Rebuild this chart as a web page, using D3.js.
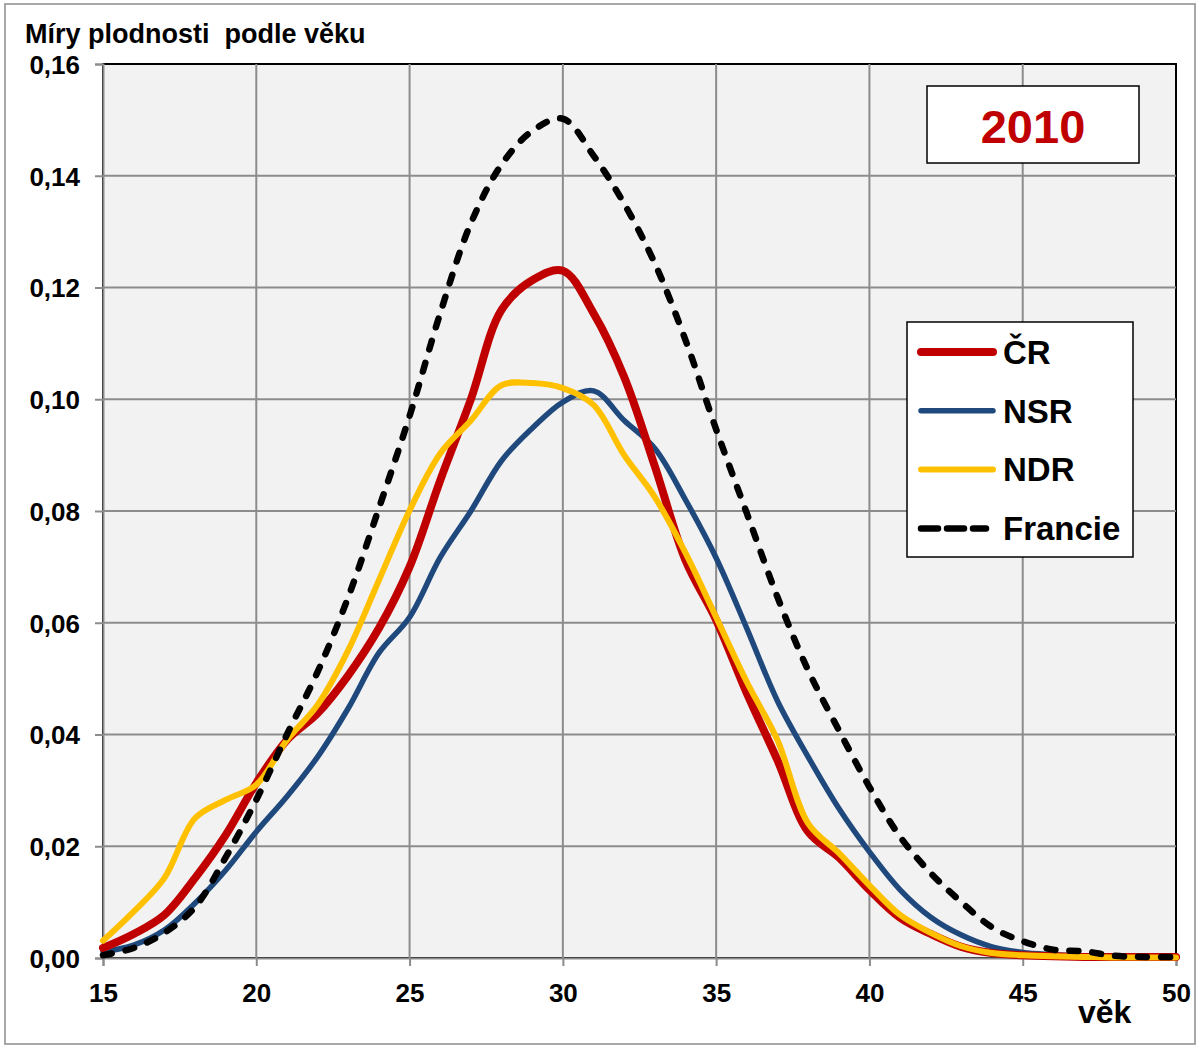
<!DOCTYPE html>
<html>
<head>
<meta charset="utf-8">
<script src="https://cdn.jsdelivr.net/npm/d3@7"></script>
<style>
  body { margin: 0; background: #fff; }
  text { font-family: "Liberation Sans", Arial, sans-serif; font-weight: bold; }
</style>
</head>
<body>
<div id="chart"></div>
<script>
//////////////////
// DATA
var ages = d3.range(15, 51);
var xTicks = [15, 20, 25, 30, 35, 40, 45, 50];
var yTicks = [0, 0.02, 0.04, 0.06, 0.08, 0.10, 0.12, 0.14, 0.16];

var cr = [0.0018, 0.0043, 0.0077, 0.0143, 0.022, 0.0313, 0.039, 0.0438, 0.0506, 0.059,
  0.070, 0.0855, 0.100, 0.116, 0.1213, 0.123, 0.1154, 0.104, 0.088, 0.0712,
  0.0605, 0.0474, 0.0354, 0.0226, 0.018, 0.0122, 0.0072, 0.0043, 0.0020, 0.0009,
  0.0005, 0.0003, 0.0002, 0.0002, 0.0002, 0.0002];
var nsr = [0.0011, 0.0023, 0.005, 0.0098, 0.0157, 0.0226, 0.0289, 0.036, 0.0447, 0.0546,
  0.061, 0.0717, 0.080, 0.089, 0.0948, 0.0995, 0.1015, 0.0962, 0.0912, 0.082,
  0.0716, 0.059, 0.046, 0.036, 0.0268, 0.019, 0.0122, 0.0073, 0.0041, 0.002,
  0.001, 0.0006, 0.0003, 0.0002, 0.0001, 0.0001];
var ndr = [0.0031, 0.0083, 0.0143, 0.025, 0.0283, 0.031, 0.039, 0.0453, 0.0551, 0.0676,
  0.0801, 0.0903, 0.0962, 0.1025, 0.1029, 0.102, 0.099, 0.090, 0.0825, 0.0725,
  0.061, 0.0494, 0.039, 0.0241, 0.0188, 0.013, 0.0077, 0.0045, 0.0021, 0.0009,
  0.0005, 0.0003, 0.0002, 0.0001, 0.0001, 0.0001];
var francie = [0.0005, 0.0018, 0.0045, 0.0091, 0.018, 0.0283, 0.040, 0.0512, 0.0646, 0.0805,
  0.097, 0.1154, 0.1315, 0.142, 0.148, 0.1502, 0.1436, 0.135, 0.1243, 0.1106,
  0.0946, 0.0796, 0.0646, 0.0515, 0.0408, 0.0306, 0.0217, 0.0152, 0.010, 0.0055,
  0.003, 0.0015, 0.0012, 0.0004, 0.0002, 0.0002];

var seriesNames = ["ČR", "NSR", "NDR", "Francie"];

//////////////////
// VARIABLES
var w = 1200, h = 1049;
var pLeft = 103, pRight = 1176, pTop = 64, pBottom = 958;

var series = [
  { name: "NSR", values: nsr, color: "#1F497D", width: 5.5, dash: null, legendDash: null },
  { name: "ČR", values: cr, color: "#C00000", width: 8, dash: null, legendDash: null },
  { name: "NDR", values: ndr, color: "#FFC000", width: 6, dash: null, legendDash: null },
  { name: "Francie", values: francie, color: "#000", width: 6.5, dash: "9,14", legendDash: "17,9" }
];
var style = {};
series.forEach(function(s) { style[s.name] = s; });

var svg = d3.select("#chart").append("svg")
  .attr("width", w)
  .attr("height", h);

// outer frame
svg.append("rect")
  .attr("x", 5).attr("y", 4)
  .attr("width", 1190).attr("height", 1040)
  .attr("fill", "#fff")
  .attr("stroke", "#8c8c8c")
  .attr("stroke-width", 1.5);

var x = d3.scaleLinear().domain([15, 50]).range([pLeft, pRight]);
var y = d3.scaleLinear().domain([0, 0.16]).range([pBottom, pTop]);

// plot area
svg.append("rect")
  .attr("x", pLeft).attr("y", pTop)
  .attr("width", pRight - pLeft).attr("height", pBottom - pTop)
  .attr("fill", "#f2f2f2")
  .attr("stroke", "#000")
  .attr("stroke-width", 2);

// grid
svg.append("g").selectAll("line")
  .data(xTicks.slice(1, -1))
  .enter().append("line")
  .attr("x1", function(d) { return x(d); })
  .attr("x2", function(d) { return x(d); })
  .attr("y1", pTop).attr("y2", pBottom)
  .attr("stroke", "#8c8c8c").attr("stroke-width", 2);
svg.append("g").selectAll("line")
  .data(yTicks.slice(1, -1))
  .enter().append("line")
  .attr("y1", function(d) { return y(d); })
  .attr("y2", function(d) { return y(d); })
  .attr("x1", pLeft).attr("x2", pRight)
  .attr("stroke", "#8c8c8c").attr("stroke-width", 2);

// axes
var fmt = function(d) { return d3.format(".2f")(d).replace(".", ","); };
var yAxis = svg.append("g")
  .attr("transform", "translate(" + pLeft + ",0)")
  .call(d3.axisLeft(y).tickValues(yTicks).tickFormat(fmt).tickSizeOuter(0).tickSize(8).tickPadding(15));
var xAxis = svg.append("g")
  .attr("transform", "translate(0," + pBottom + ")")
  .call(d3.axisBottom(x).tickValues(xTicks).tickSizeOuter(0).tickSize(8).tickPadding(18));
[yAxis, xAxis].forEach(function(a) {
  a.select(".domain").attr("stroke", "#8c8c8c").attr("stroke-width", 2);
  a.selectAll(".tick line").attr("stroke", "#8c8c8c").attr("stroke-width", 2);
  a.selectAll(".tick text")
    .attr("fill", "#000")
    .style("font-family", "'Liberation Sans', Arial, sans-serif")
    .style("font-weight", "bold")
    .style("font-size", "26px");
});
yAxis.selectAll(".tick text").attr("dy", "0.36em");

// lines
var line = d3.line()
  .x(function(d, i) { return x(ages[i]); })
  .y(function(d) { return y(d); })
  .curve(d3.curveCatmullRom.alpha(0.5));

svg.append("g").selectAll("path")
  .data(series)
  .enter().append("path")
  .attr("d", function(d) { return line(d.values); })
  .attr("fill", "none")
  .attr("stroke", function(d) { return d.color; })
  .attr("stroke-width", function(d) { return d.width; })
  .attr("stroke-dasharray", function(d) { return d.dash; })
  .attr("stroke-linecap", "round")
  .attr("stroke-linejoin", "round");

// titles
svg.append("text")
  .attr("x", 25).attr("y", 43)
  .style("font-size", "27px")
  .style("white-space", "pre")
  .text("Míry plodnosti  podle věku");
svg.append("text")
  .attr("x", 1078).attr("y", 1023)
  .style("font-size", "32px")
  .text("věk");

// year box
svg.append("rect")
  .attr("x", 927).attr("y", 86)
  .attr("width", 212).attr("height", 77)
  .attr("fill", "#fff").attr("stroke", "#000").attr("stroke-width", 1.5);
svg.append("text")
  .attr("x", 1033).attr("y", 143)
  .attr("text-anchor", "middle")
  .attr("fill", "#C00000")
  .style("font-size", "47px")
  .text("2010");

// legend
var legend = svg.append("g");
legend.append("rect")
  .attr("x", 907).attr("y", 322)
  .attr("width", 226).attr("height", 235)
  .attr("fill", "#fff").attr("stroke", "#000").attr("stroke-width", 1.5);
var item = legend.selectAll("g.item")
  .data(seriesNames)
  .enter().append("g")
  .attr("transform", function(d, i) { return "translate(0," + (352 + i * 58.8) + ")"; });
item.append("line")
  .attr("x1", 921)
  .attr("x2", function(d) { return style[d].legendDash ? 986 : 993; })
  .attr("stroke", function(d) { return style[d].color; })
  .attr("stroke-width", function(d) { return style[d].width; })
  .attr("stroke-dasharray", function(d) { return style[d].legendDash; })
  .attr("stroke-linecap", "round");
item.append("text")
  .attr("x", 1003).attr("dy", "0.36em")
  .style("font-size", "33px")
  .text(function(d) { return d; });
</script>
</body>
</html>
